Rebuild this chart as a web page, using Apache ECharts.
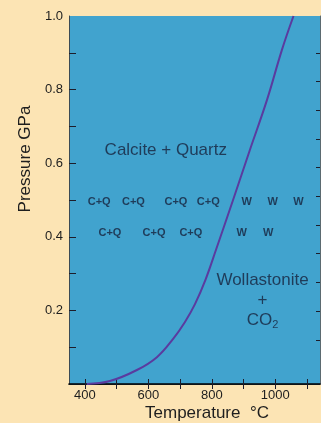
<!DOCTYPE html>
<html>
<head>
<meta charset="utf-8">
<script src="https://cdn.jsdelivr.net/npm/echarts@6/dist/echarts.min.js"></script>
<style>
  html, body { margin: 0; padding: 0; background: #FCE4B4; }
  #chart { width: 321px; height: 423px; }
</style>
</head>
<body>
<div id="chart"></div>
<script>
// Calcite + Quartz = Wollastonite + CO2 reaction boundary (T in °C, P in GPa)
const boundaryT = [406, 479, 564, 627, 677.5, 715, 747, 780, 813, 867, 920, 974, 1021, 1057.5];
const boundaryP = [0.0, 0.008, 0.038, 0.073, 0.122, 0.168, 0.217, 0.283, 0.364, 0.5, 0.636, 0.772, 0.908, 1.0];

// Experimental run products: C+Q = calcite + quartz, W = wollastonite
const runRowP = [0.495, 0.41];
const cqRunsT = [[445, 553, 687, 789], [479, 618, 734]];
const wRunsT = [[910, 992, 1073], [894, 978]];

// Axis ticks and labels
const tempTicks = [400, 500, 600, 700, 800, 900, 1000, 1100];
const tempLabels = [400, 600, 800, 1000];
const pressTicks = [0.1, 0.2, 0.3, 0.4, 0.5, 0.6, 0.7, 0.8, 0.9];
const pressLabels = [0.2, 0.4, 0.6, 0.8, 1.0];
const depthTicks = [0.12, 0.198, 0.276, 0.354, 0.432, 0.51, 0.588, 0.666, 0.744, 0.822, 0.9];

// Field names
const fieldNames = ['Calcite + Quartz', 'Wollastonite\n+\nCO{sub|2}'];
const fieldT = [655, 960];
const fieldP = [0.636, 0.228];

const FONT = 'Liberation Sans, Arial, Helvetica, sans-serif';
const INK = '#16223c';

const runPoints = [];
runRowP.forEach((p, i) => {
  cqRunsT[i].forEach(t => runPoints.push({ value: [t, p], name: 'C+Q' }));
  wRunsT[i].forEach(t => runPoints.push({ value: [t, p], name: 'W' }));
});

const chart = echarts.init(document.getElementById('chart'), null, { renderer: 'canvas' });

const tickStyle = { color: '#1d1d2b', width: 1 };

chart.setOption({
  backgroundColor: '#FCE4B4',
  animation: false,
  grid: {
    left: 69, top: 16, right: 1, bottom: 39,
    show: true, backgroundColor: '#41A3CE', borderWidth: 0
  },
  xAxis: [
    {
      type: 'value', min: 350, max: 1141, position: 'bottom',
      splitLine: { show: false },
      axisLine: { show: true, lineStyle: { color: '#3b4a55', width: 1 } },
      axisTick: { show: true, inside: true, length: 5, customValues: tempTicks, lineStyle: tickStyle },
      axisLabel: {
        customValues: tempLabels, fontSize: 13, color: '#1e1e1e', fontFamily: FONT, margin: 5,
        formatter: v => String(v)
      }
    },
    {
      type: 'value', min: 350, max: 1141, position: 'top',
      splitLine: { show: false },
      axisLine: { show: true, lineStyle: { color: '#000', width: 1.5 } },
      axisTick: { show: true, inside: true, length: 5, customValues: tempTicks, lineStyle: tickStyle },
      axisLabel: { show: false }
    }
  ],
  yAxis: [
    {
      type: 'value', min: 0, max: 1, position: 'left',
      splitLine: { show: false },
      axisLine: { show: true, lineStyle: { color: '#3b4a55', width: 1 } },
      axisTick: { show: true, inside: true, length: 7, customValues: pressTicks, lineStyle: tickStyle },
      axisLabel: {
        customValues: pressLabels, fontSize: 13, color: '#1e1e1e', fontFamily: FONT, margin: 6,
        formatter: v => v.toFixed(1)
      }
    },
    {
      type: 'value', min: 0, max: 1, position: 'right',
      splitLine: { show: false },
      axisLine: { show: true, lineStyle: { color: '#5b6a70', width: 1 } },
      axisTick: { show: true, inside: true, length: 4, customValues: depthTicks, lineStyle: tickStyle },
      axisLabel: { show: false }
    }
  ],
  graphic: [
    {
      type: 'text', x: 25, y: 159, rotation: Math.PI / 2,
      style: { text: 'Pressure GPa', fontSize: 17, fontFamily: FONT, fill: '#1e1e1e', align: 'center', verticalAlign: 'middle' }
    },
    {
      type: 'text', x: 207, y: 413,
      style: { text: 'Temperature  \u00B0C', fontSize: 17, fontFamily: FONT, fill: '#1e1e1e', align: 'center', verticalAlign: 'middle' }
    }
  ],
  series: [
    {
      type: 'line',
      data: boundaryT.map((t, i) => [t, boundaryP[i]]),
      smooth: 0.4,
      showSymbol: false,
      lineStyle: { color: '#5a3b9f', width: 2 },
      silent: true,
      z: 3
    },
    {
      type: 'scatter',
      data: runPoints,
      symbolSize: 0,
      silent: true,
      label: {
        show: true, position: 'inside', formatter: p => p.name,
        fontSize: 11, fontWeight: 'bold', color: INK, fontFamily: FONT,
        rich: {}
      },
      z: 4
    },
    {
      type: 'scatter',
      data: fieldNames.map((n, i) => ({ value: [fieldT[i], fieldP[i]], name: n })),
      symbolSize: 0,
      silent: true,
      label: {
        show: true, position: 'inside', formatter: p => p.name,
        fontSize: 17, color: INK, fontFamily: FONT, lineHeight: 20, align: 'center',
        rich: { sub: { fontSize: 11, verticalAlign: 'bottom', padding: [8, 0, 0, 0], color: INK, fontFamily: FONT } }
      },
      z: 4
    }
  ]
});
</script>
</body>
</html>
